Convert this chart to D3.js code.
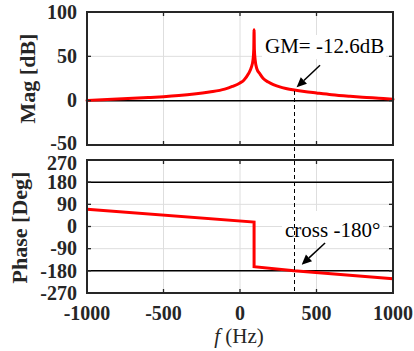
<!DOCTYPE html>
<html>
<head>
<meta charset="utf-8">
<script src="https://cdn.jsdelivr.net/npm/d3@7"></script>
<style>
  html, body { margin: 0; padding: 0; background: #fff; }
  svg { display: block; }
  text { font-family: "Liberation Serif", "Times New Roman", serif; }
</style>
</head>
<body>
<svg id="chart" width="414" height="351"></svg>
<script>
// ---- data ----
const xTicks = [-1000, -500, 0, 500, 1000];
const magTicks = [-50, 0, 50, 100];
const phaseTicks = [-270, -180, -90, 0, 90, 180, 270];

const magFreq = [-1000,-900,-800,-700,-600,-500,-400,-300,-200,-100,-50,0,25,54,75,85,90,92,94,99,110,131,152,185,218,260,300,355,420,500,600,719,800,937,1000];
const magDb   = [0.3,1,1.8,2.6,3.5,4.5,5.8,7.5,9.8,13,16,20,23,30,38,46,58,80,58,46,36,30,25,21,18,15.5,13.8,12,10.3,8.7,6.8,5,3.9,2.4,1.5];

const phaseFreq = [-1000, 92, 92, 353, 1000];
const phaseDeg  = [70, 18, -163, -180, -212];

const magRefLines = [0];
const phaseRefLines = [180, -180];

const crossFreq = 353;
const crossMag = 11.4;

const gmLabel = "GM= -12.6dB";
const crossLabel = "cross -180\u00B0";
const magYLabel = "Mag [dB]";
const phaseYLabel = "Phase [Deg]";

// ---- layout ----
const svg = d3.select("#chart");
const L = 87, R = 393;
const magTop = 12, magBot = 145;
const phTop = 160, phBot = 293;

const x = d3.scaleLinear().domain([-1000, 1000]).range([L, R]);
const yMag = d3.scaleLinear().domain([-50, 100]).range([magBot, magTop]);
const yPh = d3.scaleLinear().domain([-270, 270]).range([phBot, phTop]);

const gridColor = "#dedede";
const axisColor = "#262626";
const tickFont = "20px";

function panel(yScale, yTicks, top, bot) {
  const g = svg.append("g");
  g.selectAll(".vg").data(xTicks.slice(1, -1)).enter().append("line")
    .attr("x1", d => x(d)).attr("x2", d => x(d))
    .attr("y1", top).attr("y2", bot)
    .attr("stroke", gridColor).attr("stroke-width", 1);
  g.selectAll(".hg").data(yTicks.slice(1, -1)).enter().append("line")
    .attr("x1", L).attr("x2", R)
    .attr("y1", d => yScale(d)).attr("y2", d => yScale(d))
    .attr("stroke", gridColor).attr("stroke-width", 1);
  return g;
}

function frame(yScale, yTicks, top, bot, labelNudge) {
  const g = svg.append("g");
  const tl = 4;
  xTicks.forEach(d => {
    g.append("line").attr("x1", x(d)).attr("x2", x(d)).attr("y1", bot).attr("y2", bot - tl)
      .attr("stroke", axisColor).attr("stroke-width", 1.3);
    g.append("line").attr("x1", x(d)).attr("x2", x(d)).attr("y1", top).attr("y2", top + tl)
      .attr("stroke", axisColor).attr("stroke-width", 1.3);
  });
  yTicks.forEach(d => {
    g.append("line").attr("x1", L).attr("x2", L + tl).attr("y1", yScale(d)).attr("y2", yScale(d))
      .attr("stroke", axisColor).attr("stroke-width", 1.3);
    g.append("line").attr("x1", R).attr("x2", R - tl).attr("y1", yScale(d)).attr("y2", yScale(d))
      .attr("stroke", axisColor).attr("stroke-width", 1.3);
  });
  g.append("rect").attr("x", L).attr("y", top).attr("width", R - L).attr("height", bot - top)
    .attr("fill", "none").attr("stroke", axisColor).attr("stroke-width", 2);
  g.selectAll(".yl").data(yTicks).enter().append("text")
    .attr("x", L - 10).attr("y", d => yScale(d) + (labelNudge[d] || 0))
    .attr("dy", "0.34em")
    .attr("text-anchor", "end")
    .attr("font-size", tickFont).attr("font-weight", "bold").attr("fill", axisColor)
    .text(d => d);
}

// ---- magnitude panel ----
panel(yMag, magTicks, magTop, magBot);
svg.selectAll(".mref").data(magRefLines).enter().append("line")
  .attr("x1", L).attr("x2", R).attr("y1", d => yMag(d)).attr("y2", d => yMag(d))
  .attr("stroke", "#000").attr("stroke-width", 1.5);

// ---- phase panel ----
panel(yPh, phaseTicks, phTop, phBot);
svg.selectAll(".pref").data(phaseRefLines).enter().append("line")
  .attr("x1", L).attr("x2", R).attr("y1", d => yPh(d)).attr("y2", d => yPh(d))
  .attr("stroke", "#000").attr("stroke-width", 1.5);

// annotation backgrounds (text boxes)
svg.append("rect").attr("x", 262).attr("y", 35).attr("width", 124).attr("height", 24).attr("fill", "#fff");
svg.append("rect").attr("x", 282).attr("y", 211).attr("width", 101).attr("height", 29).attr("fill", "#fff");

// curves
const magData = magFreq.map((f, i) => [f, magDb[i]]);
const phData = phaseFreq.map((f, i) => [f, phaseDeg[i]]);

svg.append("path").datum(magData)
  .attr("d", d3.line().x(d => x(d[0])).y(d => yMag(d[1])).curve(d3.curveMonotoneX))
  .attr("fill", "none").attr("stroke", "#ff0000").attr("stroke-width", 3)
  .attr("stroke-linejoin", "round").attr("stroke-linecap", "round");

svg.append("path").datum(phData)
  .attr("d", d3.line().x(d => x(d[0])).y(d => yPh(d[1])))
  .attr("fill", "none").attr("stroke", "#ff0000").attr("stroke-width", 3)
  .attr("stroke-linejoin", "miter");

// frames on top
frame(yMag, magTicks, magTop, magBot, { "-50": -2 });
frame(yPh, phaseTicks, phTop, phBot, { "270": 3 });

// dashed crossing line
svg.append("line")
  .attr("x1", x(crossFreq)).attr("x2", x(crossFreq))
  .attr("y1", yMag(crossMag)).attr("y2", phBot)
  .attr("stroke", "#000").attr("stroke-width", 1)
  .attr("shape-rendering", "crispEdges")
  .attr("stroke-dasharray", "4,3");

// x tick labels
svg.selectAll(".xl").data(xTicks).enter().append("text")
  .attr("x", d => x(d)).attr("y", 320)
  .attr("text-anchor", "middle")
  .attr("font-size", tickFont).attr("font-weight", "bold").attr("fill", axisColor)
  .text(d => d);

// x label
const xl = svg.append("text").attr("x", 239).attr("y", 343)
  .attr("text-anchor", "middle").attr("font-size", "21px").attr("fill", axisColor);
xl.append("tspan").attr("font-style", "italic").text("f");
xl.append("tspan").text(" (Hz)");

// y labels
svg.append("text").attr("transform", `translate(35,${(magTop + magBot) / 2}) rotate(-90)`)
  .attr("text-anchor", "middle").attr("font-size", "22px").attr("font-weight", "bold")
  .attr("fill", axisColor).text(magYLabel);
svg.append("text").attr("transform", `translate(27,${(phTop + phBot) / 2 + 1}) rotate(-90)`)
  .attr("text-anchor", "middle").attr("font-size", "22px").attr("font-weight", "bold")
  .attr("fill", axisColor).text(phaseYLabel);

// annotations
svg.append("text").attr("x", 265).attr("y", 53).attr("font-size", "21px").attr("fill", "#000").text(gmLabel);
svg.append("text").attr("x", 285).attr("y", 237).attr("font-size", "21px").attr("fill", "#000").text(crossLabel);

// arrows (data space tail -> tip)
function arrow(x0, y0, x1, y1) {
  const ang = Math.atan2(y1 - y0, x1 - x0);
  const hl = 10, hw = 4.5;
  const bx = x1 - hl * Math.cos(ang), by = y1 - hl * Math.sin(ang);
  svg.append("line").attr("x1", x0).attr("y1", y0).attr("x2", bx).attr("y2", by)
    .attr("stroke", "#000").attr("stroke-width", 1.5);
  const px = -Math.sin(ang) * hw, py = Math.cos(ang) * hw;
  svg.append("path")
    .attr("d", `M${x1},${y1}L${bx + px},${by + py}L${bx - px},${by - py}Z`)
    .attr("fill", "#000");
}
arrow(x(523), yMag(40), x(370), yMag(15));
arrow(x(556), yPh(-67), x(403), yPh(-155));
</script>
</body>
</html>
